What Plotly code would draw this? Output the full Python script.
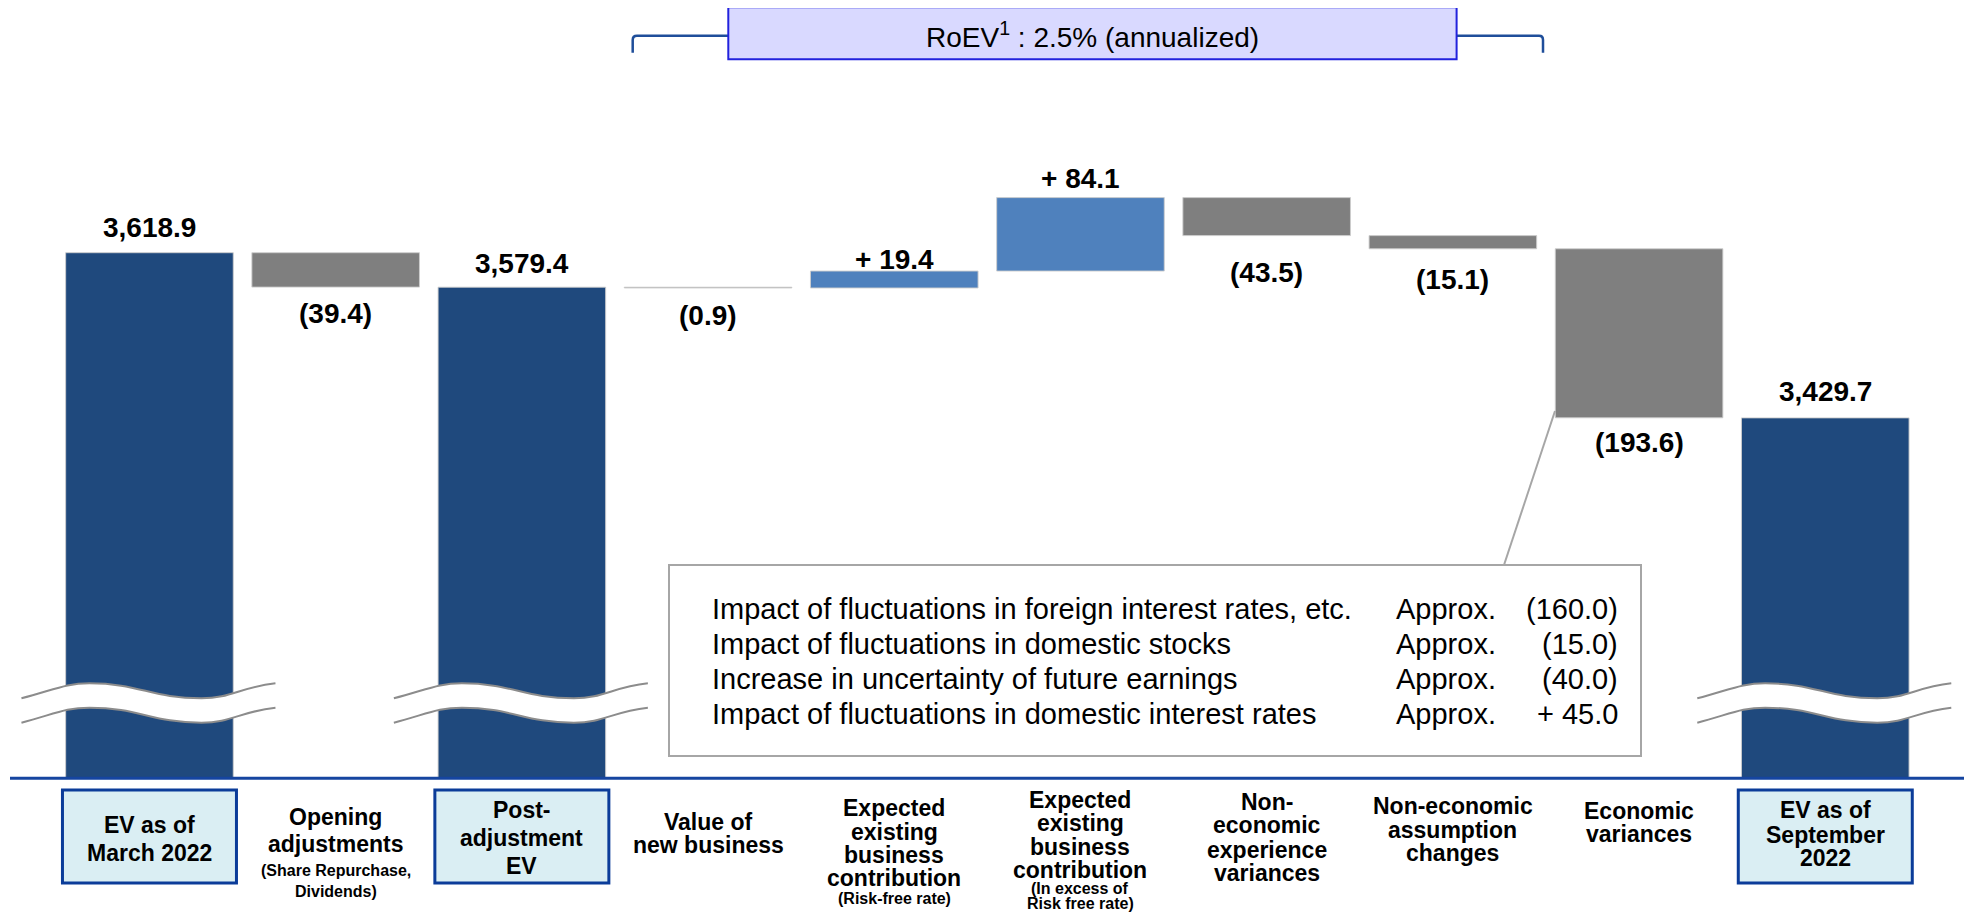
import plotly.graph_objects as go

# ---------------- data ----------------
categories = [
    "EV as of March 2022",
    "Opening adjustments",
    "Post-adjustment EV",
    "Value of new business",
    "Expected existing business contribution (Risk-free rate)",
    "Expected existing business contribution (In excess of Risk free rate)",
    "Non-economic experience variances",
    "Non-economic assumption changes",
    "Economic variances",
    "EV as of September 2022",
]
values = [3618.9, -39.4, 3579.4, -0.9, 19.4, 84.1, -43.5, -15.1, -193.6, 3429.7]
measures = ["total", "relative", "total", "relative", "relative",
            "relative", "relative", "relative", "relative", "total"]

tick_main = [
    ["EV as of", "March 2022"],
    ["Opening", "adjustments"],
    ["Post-", "adjustment", "EV"],
    ["Value of", "new business"],
    ["Expected", "existing", "business", "contribution"],
    ["Expected", "existing", "business", "contribution"],
    ["Non-", "economic", "experience", "variances"],
    ["Non-economic", "assumption", "changes"],
    ["Economic", "variances"],
    ["EV as of", "September", "2022"],
]
tick_sub = [
    [], ["(Share Repurchase,", "Dividends)"], [], [], ["(Risk-free rate)"],
    ["(In excess of", "Risk free rate)"], [], [], [], [],
]

breakdown_items = [
    "Impact of fluctuations in foreign interest rates, etc.",
    "Impact of fluctuations in domestic stocks",
    "Increase in uncertainty of future earnings",
    "Impact of fluctuations in domestic interest rates",
]
breakdown_values = [-160.0, -15.0, -40.0, 45.0]
roev_text = "RoEV<sup>1</sup> : 2.5% (annualized)"

# ---------------- styles / layout geometry ----------------
FONT = "Liberation Sans, Arial, sans-serif"
NAVY, BLUE, GREY = "#1F497D", "#4F81BD", "#7F7F7F"
OFF = 8                      # page body margin
W, H = 1972 - OFF, 918 - OFF
# plot area in page pixels
AL, AR, AT, AB = 10, 1972, 8, 778
PW, PH = AR - AL, AB - AT
XMIN, XMAX = -0.749, 9.788
YMIN, YMAX = 3017.2, 3899.2

label_dy = [25.7, -26.3, 23.7, -28, 12, 18.7, -36.7, -30.7, -24.4, 26.6]
tick_line_y = [
    [825, 853],
    [816.7, 844, 870, 891.7],
    [810, 838, 866],
    [821.7, 845],
    [808, 831.7, 855, 878, 898],
    [800, 823, 847, 870, 888, 903],
    [801.7, 825, 850, 873],
    [806, 830, 853],
    [811, 834],
    [810, 835, 858],
]


def PX(x):
    return (x - AL) / PW


def PY(y):
    return (AB - y) / PH


def P(x, y):
    return f"{PX(x):.5f},{PY(y):.5f}"


def cx(i):
    return AL + (i - XMIN) / (XMAX - XMIN) * PW


def fmt(v, total):
    if total:
        return f"{v:,.1f}"
    if v < 0:
        return f"({-v:.1f})"
    return f"+ {v:.1f}"


# ---------------- bars ----------------
bases, heights, colors = [], [], []
running = 0.0
for v, m in zip(values, measures):
    if m == "total":
        bases.append(0)
        heights.append(v)
        running = v
        colors.append(NAVY)
    else:
        bases.append(running)
        heights.append(v)
        running += v
        colors.append(BLUE if v > 0 else GREY)

fig = go.Figure()
fig.add_trace(go.Bar(
    x=categories, y=heights, base=bases, width=0.9,
    marker=dict(color=colors, line=dict(color="rgba(205,205,205,0.9)", width=1)),
    hoverinfo="skip", showlegend=False,
))

annotations = []
shapes = []

# value labels
for i, (v, m) in enumerate(zip(values, measures)):
    total = m == "total"
    end = bases[i] + heights[i]
    annotations.append(dict(
        x=categories[i], y=end, xref="x", yref="y", showarrow=False,
        text=fmt(v, total), yanchor="middle", xanchor="center", yshift=label_dy[i],
        font=dict(family=FONT, size=28, color="#000000", weight="bold"),
    ))

# category labels below axis
for i in range(len(categories)):
    lines = [(t, False) for t in tick_main[i]] + [(t, True) for t in tick_sub[i]]
    for (t, sub), yy in zip(lines, tick_line_y[i]):
        annotations.append(dict(
            x=PX(cx(i)), y=PY(yy), xref="paper", yref="paper", showarrow=False,
            text=t, xanchor="center", yanchor="middle",
            font=dict(family=FONT, size=16 if sub else 23, color="#000000", weight="bold"),
        ))
    if measures[i] == "total":
        shapes.append(dict(
            type="rect", xref="paper", yref="paper",
            x0=PX(cx(i) - 87), x1=PX(cx(i) + 87), y0=PY(790), y1=PY(883),
            fillcolor="#DAEEF3", line=dict(color="#0B3C99", width=3), layer="below",
        ))

# axis base line
shapes.append(dict(type="line", xref="paper", yref="paper", x0=0, x1=1,
                   y0=PY(778.3), y1=PY(778.3), line=dict(color="#1545A0", width=3)))


# wave break marks on total bars
def wave_segments(c, yA):
    yB = yA - 15
    x0, xp, xt, x3 = c - 128, c - 60, c + 52, c + 126
    return [
        ((x0, yA), (x0 + 34, yA - 9), (xp - 24, yB), (xp, yB)),
        ((xp, yB), (xp + 50, yB), (xt - 50, yA), (xt, yA)),
        ((xt, yA), (xt + 30, yA), (x3 - 36, yB + 4), (x3, yB)),
    ]


def seg_forward(segs):
    s = f"M {P(*segs[0][0])}"
    for _, c1, c2, p1 in segs:
        s += f" C {P(*c1)} {P(*c2)} {P(*p1)}"
    return s


def seg_reverse(segs):
    s = ""
    for p0, c1, c2, _ in reversed(segs):
        s += f" C {P(*c2)} {P(*c1)} {P(*p0)}"
    return s


for i, m in enumerate(measures):
    if m != "total":
        continue
    c = cx(i)
    up = wave_segments(c, 698.3)
    lo = wave_segments(c, 722.7)
    band = seg_forward(up) + f" L {P(*lo[-1][3])}" + seg_reverse(lo) + " Z"
    shapes.append(dict(type="path", xref="paper", yref="paper", path=band,
                       fillcolor="white", line=dict(width=0)))
    for segs in (up, lo):
        shapes.append(dict(type="path", xref="paper", yref="paper", path=seg_forward(segs),
                           line=dict(color="#8C8C8C", width=2)))

# breakdown callout box
shapes.append(dict(type="rect", xref="paper", yref="paper",
                   x0=PX(669), x1=PX(1641), y0=PY(565), y1=PY(756),
                   fillcolor="white", line=dict(color="#A6A6A6", width=2)))
shapes.append(dict(type="line", xref="paper", yref="paper",
                   x0=PX(1555), y0=PY(411), x1=PX(1504), y1=PY(565),
                   line=dict(color="#A6A6A6", width=2)))
row_y = [609.2, 643.8, 678.8, 713.8]
for item, val, yy in zip(breakdown_items, breakdown_values, row_y):
    f = dict(family=FONT, size=29, color="#000000")
    annotations.append(dict(x=PX(710), y=PY(yy), xref="paper", yref="paper", showarrow=False,
                            text=item, xanchor="left", yanchor="middle", font=f))
    annotations.append(dict(x=PX(1446), y=PY(yy), xref="paper", yref="paper", showarrow=False,
                            text="Approx.", xanchor="center", yanchor="middle", font=f))
    annotations.append(dict(x=PX(1620), y=PY(yy), xref="paper", yref="paper", showarrow=False,
                            text=fmt(val, False), xanchor="right", yanchor="middle", font=f))

# RoEV header box and bracket
shapes.append(dict(type="path", xref="paper", yref="paper",
                   path=f"M {P(632.7, 52.7)} L {P(632.7, 40)} Q {P(632.7, 35.8)} {P(637, 35.8)} L {P(728.3, 35.8)}",
                   line=dict(color="#1F4E9A", width=2.5)))
shapes.append(dict(type="path", xref="paper", yref="paper",
                   path=f"M {P(1456.6, 35.8)} L {P(1539, 35.8)} Q {P(1543, 35.8)} {P(1543, 40)} L {P(1543, 52.7)}",
                   line=dict(color="#1F4E9A", width=2.5)))
shapes.append(dict(type="rect", xref="paper", yref="paper",
                   x0=PX(728.3), x1=PX(1456.6), y0=PY(7.3), y1=PY(59.3),
                   fillcolor="#D9D9FF", line=dict(color="#2222DD", width=2)))
annotations.append(dict(x=PX(1092.5), y=PY(34.7), xref="paper", yref="paper", showarrow=False,
                        text=roev_text, xanchor="center", yanchor="middle",
                        font=dict(family=FONT, size=28, color="#000000")))

fig.update_layout(
    width=W, height=H, autosize=False,
    margin=dict(l=AL - OFF, r=1972 - AR, t=AT - OFF, b=(918 - OFF) - (AB - OFF), pad=0),
    paper_bgcolor="white", plot_bgcolor="white",
    xaxis=dict(type="category", range=[XMIN, XMAX], showticklabels=False, showgrid=False,
               zeroline=False, showline=False, ticks="", fixedrange=True),
    yaxis=dict(range=[YMIN, YMAX], visible=False, showgrid=False, zeroline=False, fixedrange=True),
    bargap=0.1, showlegend=False, hovermode=False,
    annotations=annotations, shapes=shapes,
)

fig.write_html("out.html")
